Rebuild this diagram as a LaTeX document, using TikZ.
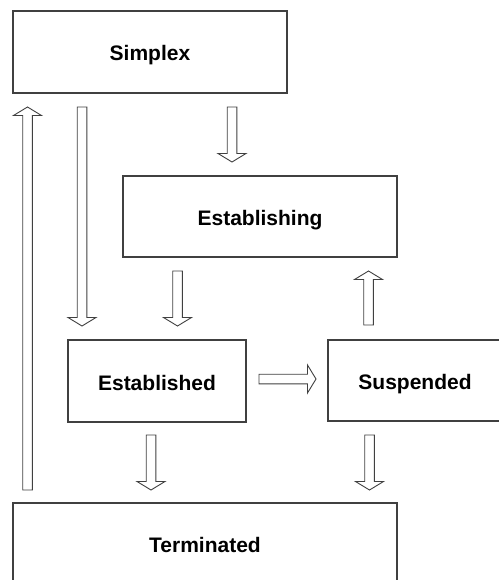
\documentclass[tikz,border=0pt]{standalone}
\usepackage{fontspec}
\setmainfont{Liberation Sans}
\usetikzlibrary{calc}
\begin{document}
\begin{tikzpicture}[x=1pt,y=-1pt,
  statebox/.style={draw=black!75, line width=1.1pt, fill=white, inner sep=0pt,
    text height=18pt, text depth=0pt,
    font=\fontsize{21}{25}\selectfont\bfseries},
  blockarrow/.style={draw=black!75, line width=0.9pt, fill=white, line join=miter,
    to path={
      ($(\tikztotarget)!8.5pt!(\tikztostart)$) coordinate (ba-h)
      ($(\tikztostart)!4.8pt!90:(\tikztotarget)$)
      -- ($(ba-h)!4.8pt!90:(\tikztotarget)$)
      -- ($(ba-h)!14pt!90:(\tikztotarget)$)
      -- (\tikztotarget)
      -- ($(ba-h)!14pt!-90:(\tikztotarget)$)
      -- ($(ba-h)!4.8pt!-90:(\tikztotarget)$)
      -- ($(\tikztostart)!4.8pt!-90:(\tikztotarget)$)
      -- cycle}}]
\useasboundingbox (0,0) rectangle (498,580);

% states (the last two run on past the page edge)
\node[statebox, minimum width=274pt, minimum height=82pt] (simplex) at (150,52) {Simplex};
\node[statebox, minimum width=274pt, minimum height=81pt] (establishing) at (260,216.5) {Establishing};
\node[statebox, minimum width=178pt, minimum height=82pt] (established) at (157,381) {Established};
\node[statebox, minimum width=200pt, minimum height=81pt] (suspended) at (428,380.5) {Suspended\hspace*{26pt}};
\node[statebox, minimum width=384pt, minimum height=100pt, text depth=19pt] (terminated) at (205,553) {Terminated};

% arrow end points in the gaps between states
\coordinate (t-up-s) at (27.5,490);  \coordinate (t-up-e) at (27.5,107);
\coordinate (s-ed-s) at (82,107);    \coordinate (s-ed-e) at (82,326);
\coordinate (s-eg-s) at (232,107);   \coordinate (s-eg-e) at (232,162);
\coordinate (eg-ed-s) at (177.5,271); \coordinate (eg-ed-e) at (177.5,326);
\coordinate (su-eg-s) at (368.5,325); \coordinate (su-eg-e) at (368.5,271);
\coordinate (ed-su-s) at (259,379);  \coordinate (ed-su-e) at (316,379);
\coordinate (ed-t-s) at (151,435);   \coordinate (ed-t-e) at (151,490);
\coordinate (su-t-s) at (369.5,435); \coordinate (su-t-e) at (369.5,490);

% transitions
\draw[blockarrow] (t-up-s) to (t-up-e);
\draw[blockarrow] (s-ed-s) to (s-ed-e);
\draw[blockarrow] (s-eg-s) to (s-eg-e);
\draw[blockarrow] (eg-ed-s) to (eg-ed-e);
\draw[blockarrow] (su-eg-s) to (su-eg-e);
\draw[blockarrow] (ed-su-s) to (ed-su-e);
\draw[blockarrow] (ed-t-s) to (ed-t-e);
\draw[blockarrow] (su-t-s) to (su-t-e);
\end{tikzpicture}
\end{document}
